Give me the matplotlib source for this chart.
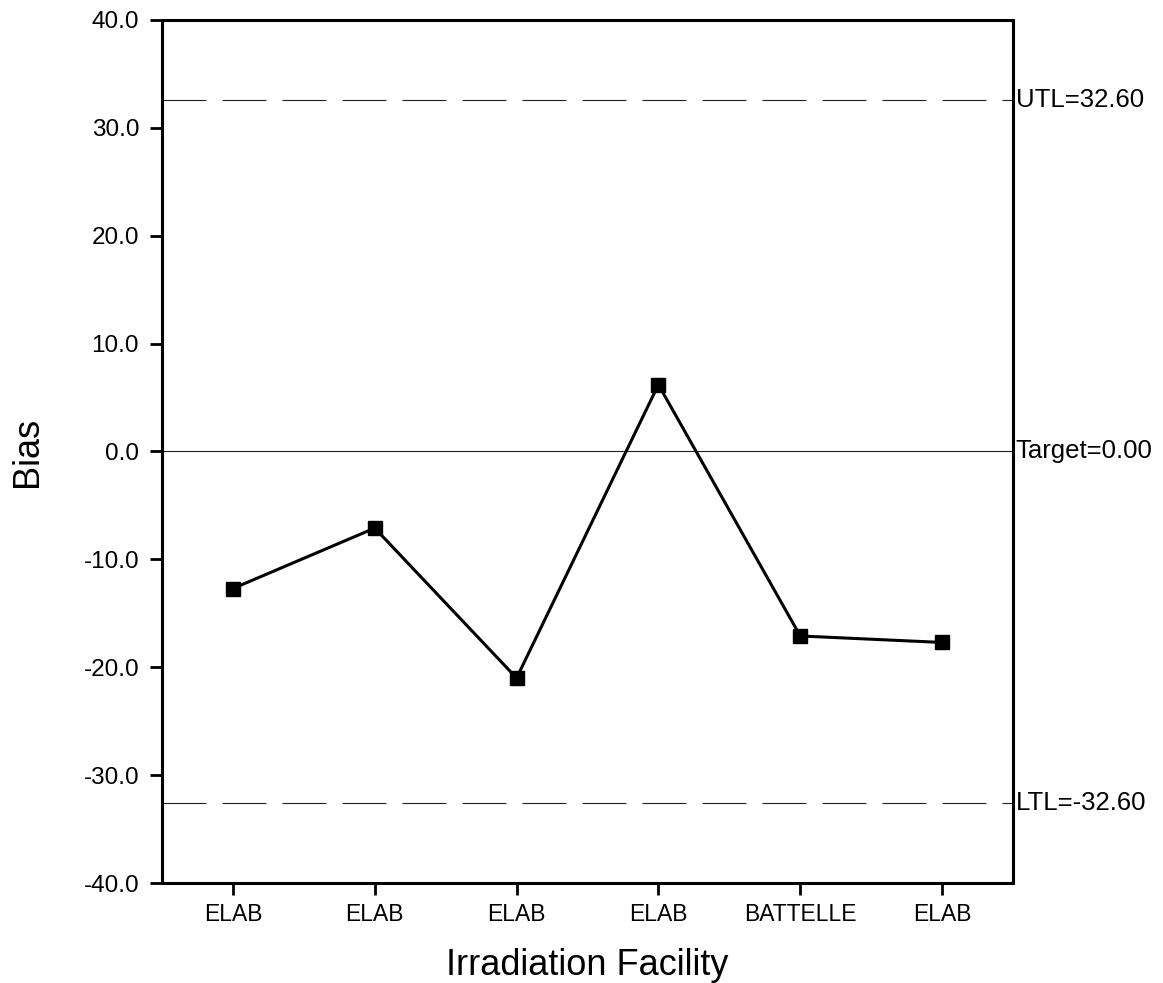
import matplotlib
matplotlib.use("Agg")
import matplotlib.pyplot as plt

plt.rcParams['font.family'] = ['Liberation Sans', 'DejaVu Sans']
plt.rcParams['lines.scale_dashes'] = False

# Bias by irradiation run
facilities = ["ELAB", "ELAB", "ELAB", "ELAB", "BATTELLE", "ELAB"]
bias = [-12.7, -7.1, -21.0, 6.2, -17.1, -17.7]

# Control limits
target = 0.00
utl = 32.60
ltl = -32.60

y_ticks = [-40, -30, -20, -10, 0, 10, 20, 30, 40]

fig = plt.figure(figsize=(11.63, 9.83), dpi=100)
ax = fig.add_axes([0.1393, 0.1017, 0.7317, 0.878])

x = list(range(1, len(bias) + 1))

ax.axhline(target, color="#222222", linewidth=0.8, zorder=1)
ax.axhline(utl, color="#222222", linewidth=0.8, dashes=(31.7, 11.5), zorder=1)
ax.axhline(ltl, color="#222222", linewidth=0.8, dashes=(31.7, 11.5), zorder=1)

ax.plot(x, bias, color="black", linewidth=2.2, marker="s", markersize=10.5,
        markerfacecolor="black", markeredgecolor="black", zorder=3)

ax.set_xlim(0.5, len(bias) + 0.5)
ax.set_ylim(-40, 40)
ax.set_yticks(y_ticks)
ax.set_yticklabels([f"{v:.1f}" for v in y_ticks])
ax.set_xticks(x)
ax.set_xticklabels(facilities)

for side in ["left", "right", "top", "bottom"]:
    ax.spines[side].set_linewidth(2.2)

ax.tick_params(axis="y", direction="out", length=8.5, width=2.0,
               labelsize=17.5, pad=8)
ax.tick_params(axis="x", direction="out", length=8.5, width=2.0,
               labelsize=16.5, pad=6)

ax.set_ylabel("Bias", fontsize=26, labelpad=28)
ax.set_xlabel("Irradiation Facility", fontsize=26, labelpad=16)

for val, label in [(utl, f"UTL={utl:.2f}"), (target, f"Target={target:.2f}"),
                   (ltl, f"LTL={ltl:.2f}")]:
    ax.annotate(label, xy=(1.0, val), xycoords=("axes fraction", "data"),
                xytext=(2, 0), textcoords="offset points",
                ha="left", va="center", fontsize=18.5)

fig.savefig("out.png", dpi=100, facecolor="white")
